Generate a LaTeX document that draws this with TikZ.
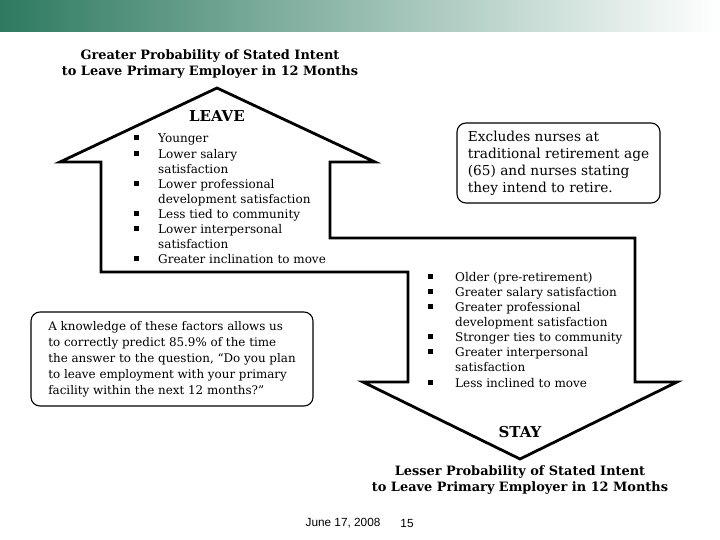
\documentclass[tikz,border=0pt]{standalone}
\usepackage{fontspec}
\setmainfont{DejaVu Serif}
\newfontfamily\footfont{Liberation Sans}
\definecolor{bargreen}{RGB}{46,122,96}
\newcommand{\lblt}{\makebox[24pt][l]{\raisebox{2.5pt}{\rule{5pt}{5pt}}}}
\newcommand{\lind}{\makebox[24pt][l]{}}
\newcommand{\sblt}{\makebox[27pt][l]{\raisebox{2.5pt}{\rule{5pt}{5pt}}}}
\newcommand{\sind}{\makebox[27pt][l]{}}
\begin{document}
\begin{tikzpicture}[x=1pt,y=-1pt,
  arrowline/.style={line width=2.8pt, line join=miter},
  titletext/.style={font=\bfseries\fontsize{12.9}{16.5}\selectfont, align=center, inner sep=0},
  headtext/.style={font=\bfseries\fontsize{15}{15}\selectfont, inner sep=0},
  listtext/.style={font=\fontsize{12}{15.1}\selectfont, align=left, inner sep=0, anchor=north west},
  notebox/.style={draw, line width=1.1pt, rounded corners=9pt, align=left, inner sep=0},
  foot/.style={font=\footfont\fontsize{11.8}{12}\selectfont, inner sep=0}]
\useasboundingbox (0,0) rectangle (720,540);
\shade[left color=bargreen, right color=white] (0,0) rectangle (720,32);

\draw[arrowline] (217,88) -- (375,162) -- (330,162) -- (330,238) -- (635,238) -- (635,382)
  -- (677,382) -- (520,459) -- (363,382) -- (408,382) -- (408,272) -- (101,272)
  -- (101,162) -- (60,162) -- cycle;

\node[titletext] (toptitle) at (210,64) {Greater Probability of Stated Intent\\to Leave Primary Employer in 12 Months};
\node[headtext] (leave) at (217,116) {LEAVE};
\node[listtext] (leavelist) at (134,134) {\lblt Younger\\
\lblt Lower salary\\
\lind satisfaction\\
\lblt Lower professional\\
\lind development satisfaction\\
\lblt Less tied to community\\
\lblt Lower interpersonal\\
\lind satisfaction\\
\lblt Greater inclination to move};

\node[notebox, font=\fontsize{13.7}{17}\selectfont, minimum width=203pt, minimum height=80pt] (excl) at (558.5,163)
  {Excludes nurses at\\traditional retirement age\\(65) and nurses stating\\they intend to retire.};

\node[listtext] (staylist) at (428,272) {\sblt Older (pre-retirement)\\
\sblt Greater salary satisfaction\\
\sblt Greater professional\\
\sind development satisfaction\\
\sblt Stronger ties to community\\
\sblt Greater interpersonal\\
\sind satisfaction\\
\sblt Less inclined to move};

\node[notebox, font=\fontsize{11.9}{16}\selectfont, minimum width=282pt, minimum height=94pt] (know) at (172,359)
  {A knowledge of these factors allows us\\to correctly predict 85.9\% of the time\\the answer to the question, “Do you plan\\to leave employment with your primary\\facility within the next 12 months?"};

\node[headtext] (stay) at (520,432) {STAY};
\node[titletext] (bottitle) at (520,480) {Lesser Probability of Stated Intent\\to Leave Primary Employer in 12 Months};

\node[foot] (date) at (343,523) {June 17, 2008};
\node[foot] (page) at (407,523) {15};
\end{tikzpicture}
\end{document}
